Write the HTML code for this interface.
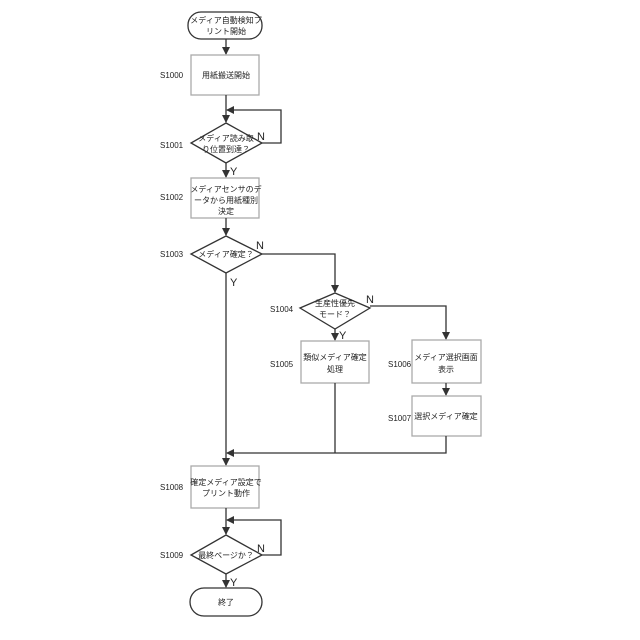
<!DOCTYPE html>
<html><head><meta charset="utf-8"><style>
body{margin:0;background:#fff}
svg{display:block}
text{font-family:"Liberation Sans","Noto Sans CJK JP",sans-serif;fill:#222}
.t{font-size:8px;text-anchor:middle}
.l{font-size:8px}
.yn{font-size:11px}
</style></head><body>
<svg width="640" height="640" viewBox="0 0 640 640" xmlns="http://www.w3.org/2000/svg">
<defs><marker id="a" markerWidth="8" markerHeight="8" refX="7" refY="4" orient="auto" markerUnits="userSpaceOnUse"><path d="M0,0 L8,4 L0,8 z" fill="#333"/></marker></defs>
<g fill="none" stroke="#333" stroke-width="1.3">
<rect x="188" y="12" width="74" height="27" rx="13"/>
<line x1="226" y1="39" x2="226" y2="54" marker-end="url(#a)"/>
<rect x="191" y="55" width="68" height="40" stroke="#aaa"/>
<line x1="226" y1="95" x2="226" y2="122" marker-end="url(#a)"/>
<polyline points="262,143 281,143 281,110 227,110" marker-end="url(#a)"/>
<polygon points="226,123 262,143 226,163 191,143"/>
<line x1="226" y1="163" x2="226" y2="177" marker-end="url(#a)"/>
<rect x="191" y="178" width="68" height="40" stroke="#aaa"/>
<line x1="226" y1="218" x2="226" y2="235" marker-end="url(#a)"/>
<polygon points="226,236 262,254 226,273 191,254"/>
<polyline points="262,254 335,254 335,292" marker-end="url(#a)"/>
<polygon points="335,293 370,308 335,329 300,308"/>
<line x1="335" y1="329" x2="335" y2="340" marker-end="url(#a)"/>
<polyline points="370,306 446,306 446,339" marker-end="url(#a)"/>
<rect x="301" y="341" width="68" height="42" stroke="#aaa"/>
<rect x="412" y="340" width="69" height="43" stroke="#aaa"/>
<line x1="446" y1="383" x2="446" y2="395" marker-end="url(#a)"/>
<rect x="412" y="396" width="69" height="40" stroke="#aaa"/>
<polyline points="335,383 335,453"/>
<polyline points="446,436 446,453 227,453" marker-end="url(#a)"/>
<line x1="226" y1="273" x2="226" y2="465" marker-end="url(#a)"/>
<rect x="191" y="466" width="68" height="42" stroke="#aaa"/>
<line x1="226" y1="508" x2="226" y2="534" marker-end="url(#a)"/>
<polyline points="262,555 281,555 281,520 227,520" marker-end="url(#a)"/>
<polygon points="226,535 262,555 226,574 191,555"/>
<line x1="226" y1="574" x2="226" y2="587" marker-end="url(#a)"/>
<rect x="190" y="588" width="72" height="28" rx="14"/>
</g>
<text class="t" x="226" y="23">メディア自動検知プ</text>
<text class="t" x="226" y="34">リント開始</text>
<text class="t" x="226" y="78">用紙搬送開始</text>
<text class="t" x="226" y="141">メディア読み取</text>
<text class="t" x="226" y="152">り位置到達？</text>
<text class="t" x="226" y="192">メディアセンサのデ</text>
<text class="t" x="226" y="203">ータから用紙種別</text>
<text class="t" x="226" y="214">決定</text>
<text class="t" x="226" y="257">メディア確定？</text>
<text class="t" x="335" y="306">生産性優先</text>
<text class="t" x="335" y="317">モード？</text>
<text class="t" x="335" y="360">類似メディア確定</text>
<text class="t" x="335" y="372">処理</text>
<text class="t" x="446" y="360">メディア選択画面</text>
<text class="t" x="446" y="372">表示</text>
<text class="t" x="446" y="419">選択メディア確定</text>
<text class="t" x="226" y="485">確定メディア設定で</text>
<text class="t" x="226" y="496">プリント動作</text>
<text class="t" x="226" y="558">最終ページか？</text>
<text class="t" x="226" y="605">終了</text>
<text class="l" x="160" y="78">S1000</text>
<text class="l" x="160" y="148">S1001</text>
<text class="l" x="160" y="200">S1002</text>
<text class="l" x="160" y="257">S1003</text>
<text class="l" x="270" y="312">S1004</text>
<text class="l" x="270" y="367">S1005</text>
<text class="l" x="388" y="367">S1006</text>
<text class="l" x="388" y="421">S1007</text>
<text class="l" x="160" y="490">S1008</text>
<text class="l" x="160" y="558">S1009</text>
<text class="yn" x="257" y="140">N</text>
<text class="yn" x="230" y="175">Y</text>
<text class="yn" x="256" y="249">N</text>
<text class="yn" x="230" y="286">Y</text>
<text class="yn" x="366" y="303">N</text>
<text class="yn" x="339" y="339">Y</text>
<text class="yn" x="257" y="552">N</text>
<text class="yn" x="230" y="586">Y</text>
</svg>
</body></html>
